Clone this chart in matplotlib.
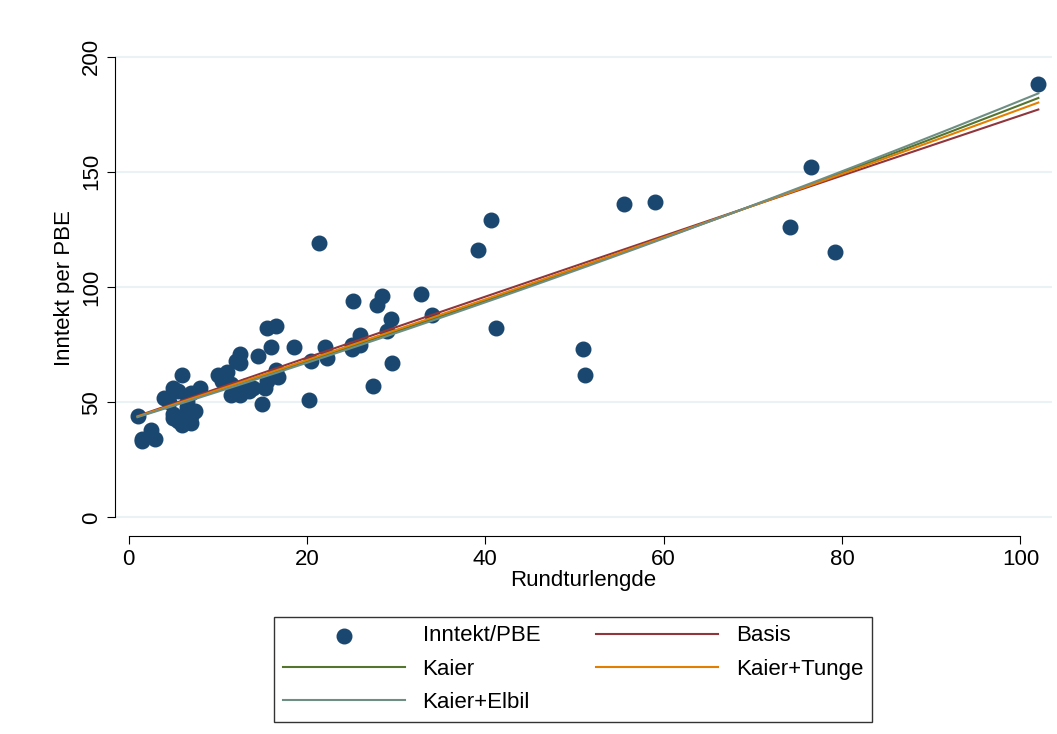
import matplotlib.pyplot as plt
import numpy as np

plt.rcParams['font.family'] = ['Liberation Sans', 'DejaVu Sans']

rundtur = [1, 1.5, 1.5, 2.5, 3, 4, 4.5, 5, 5.5, 5, 5, 5.5, 6, 6, 6.5, 6.5, 7, 7, 7.5, 6, 6.5, 7, 8,
           10, 10.5, 11, 11.5, 11.5, 12, 12.5, 12.5, 12.5, 13, 13.5, 14, 14.5, 15, 15.3, 15.5, 15.5,
           16, 16.5, 16.5, 16.7, 18.5, 20.2, 20.5, 21.3, 22, 22.2, 25, 25.2, 25, 26, 26, 27.4, 27.8,
           28.4, 29, 29.4, 29.5, 32.8, 34, 39.2, 40.6, 41.2, 51, 51.2, 55.5, 59, 74.2, 76.5, 79.2, 102]
inntekt = [44, 34, 33, 38, 34, 52, 50, 56, 55, 45, 43, 42, 41, 40, 46, 48, 44, 41, 46, 62, 50, 54, 56,
           62, 59, 63, 58, 53, 68, 71, 67, 53, 57, 55, 56, 70, 49, 56, 82, 59,
           74, 83, 64, 61, 74, 51, 68, 119, 74, 69, 75, 94, 73, 79, 75, 57, 92,
           96, 81, 86, 67, 97, 88, 116, 129, 82, 73, 62, 136, 137, 126, 152, 115, 188]

# quadratic fits: a + b*x + c*x^2
modeller = ["Basis", "Kaier", "Kaier+Tunge", "Kaier+Elbil"]
koef_a = [42.66, 42.46, 42.53, 42.30]
koef_b = [1.336, 1.236, 1.2726, 1.2025]
koef_c = [-0.000186, 0.001294, 0.000738, 0.00183]
farger = ["#90353b", "#55752f", "#e37e00", "#6e8e84"]

fig = plt.figure(figsize=(10.57, 7.34), dpi=100)
ax = fig.add_axes([0.109, 0.27, 0.886, 0.675])
ax.grid(axis="y", color="#eaf2f3", linewidth=1.5)
ax.set_axisbelow(True)

sc = ax.scatter(rundtur, inntekt, s=110, color="#1a476f", zorder=2, label="Inntekt/PBE")
xs = np.linspace(1, 102, 200)
handles = {}
for navn, a, b, c, f in zip(modeller, koef_a, koef_b, koef_c, farger):
    handles[navn], = ax.plot(xs, a + b * xs + c * xs ** 2, color=f, linewidth=1.5, zorder=3, label=navn)

ax.set_xlim(-1.5, 103.5)
ax.set_ylim(-8, 207)
ax.set_xticks([0, 20, 40, 60, 80, 100])
ax.set_yticks([0, 50, 100, 150, 200])
ax.set_yticklabels(["0", "50", "100", "150", "200"], rotation=90, va="center")
for s in ["top", "right"]:
    ax.spines[s].set_visible(False)
ax.spines["left"].set_bounds(0, 200)
ax.spines["bottom"].set_bounds(0, 100)
ax.tick_params(labelsize=16, length=6)
ax.set_xlabel("Rundturlengde", fontsize=16, labelpad=0)
ax.set_ylabel("Inntekt per PBE", fontsize=16)

order = [sc, handles["Kaier"], handles["Kaier+Elbil"], handles["Basis"], handles["Kaier+Tunge"]]
leg = fig.legend(order, [h.get_label() for h in order], ncol=2, loc="upper center",
                 bbox_to_anchor=(0.542, 0.16), borderaxespad=0, fontsize=16, frameon=True,
                 fancybox=False, edgecolor="black", handlelength=5.5, columnspacing=2.5,
                 borderpad=0.4, labelspacing=0.55)
leg.get_frame().set_linewidth(1)

fig.savefig("out.png")
